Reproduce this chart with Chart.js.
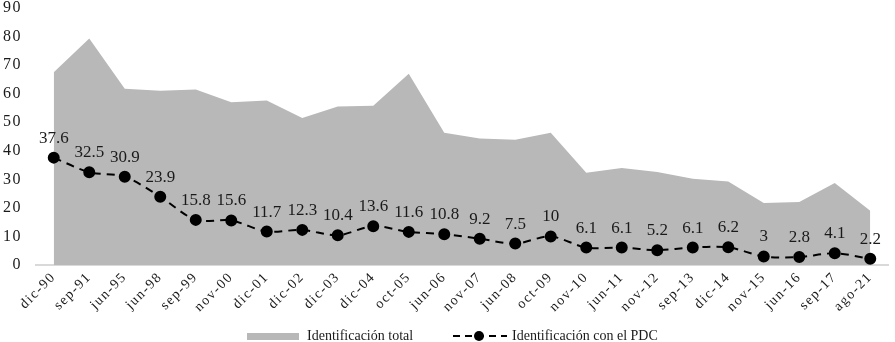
<!DOCTYPE html>
<html lang="es">
<head>
<meta charset="UTF-8">
<script src="https://cdn.jsdelivr.net/npm/chart.js"></script>
<style>
  html, body { margin: 0; padding: 0; background: #fff; }
  #wrap { width: 895px; height: 342px; position: relative; }
</style>
</head>
<body>
<div id="wrap"><canvas id="chart"></canvas></div>
<script>
const categories = ['dic-90','sep-91','jun-95','jun-98','sep-99','nov-00','dic-01','dic-02','dic-03','dic-04','oct-05','jun-06','nov-07','jun-08','oct-09','nov-10','jun-11','nov-12','sep-13','dic-14','nov-15','jun-16','sep-17','ago-21'];
const totalValues = [67.5, 79.3, 61.7, 61, 61.5, 57, 57.6, 51.5, 55.5, 55.8, 67, 46.3, 44.3, 43.9, 46.3, 32.3, 34, 32.6, 30.2, 29.2, 21.7, 22.1, 28.7, 19];
const pdcValues = [37.6, 32.5, 30.9, 23.9, 15.8, 15.6, 11.7, 12.3, 10.4, 13.6, 11.6, 10.8, 9.2, 7.5, 10, 6.1, 6.1, 5.2, 6.1, 6.2, 3, 2.8, 4.1, 2.2];
const yTicks = [0, 10, 20, 30, 40, 50, 60, 70, 80, 90];
const seriesNames = ['Identificación total', 'Identificación con el PDC'];

const serif = '"Liberation Serif", "DejaVu Serif", serif';

// axis labels in the original are widely spaced
const spacing = {
  id: 'spacing',
  beforeDraw(chart) { chart.ctx.letterSpacing = '1.5px'; },
  beforeDatasetsDraw(chart) { chart.ctx.letterSpacing = '0px'; }
};

// value labels above the dashed line points
const pointLabels = {
  id: 'pointLabels',
  afterDatasetsDraw(chart) {
    const ctx = chart.ctx;
    const meta = chart.getDatasetMeta(1);
    ctx.save();
    ctx.font = '17px ' + serif;
    ctx.fillStyle = '#1a1a1a';
    ctx.textAlign = 'center';
    ctx.textBaseline = 'bottom';
    meta.data.forEach((pt, i) => {
      ctx.fillText(String(pdcValues[i]), pt.x, pt.y - 11);
    });
    ctx.restore();
  }
};

// legend drawn by hand, the line entry needs a dot on a dashed line
const bottomLegend = {
  id: 'bottomLegend',
  afterDraw(chart) {
    const ctx = chart.ctx;
    const y = 336;
    ctx.save();
    ctx.font = '14px ' + serif;
    ctx.textBaseline = 'middle';
    ctx.textAlign = 'left';

    ctx.fillStyle = '#b8b8b8';
    ctx.fillRect(247, y - 3, 52, 7);
    ctx.fillStyle = '#1a1a1a';
    ctx.fillText(seriesNames[0], 307, y);

    ctx.strokeStyle = '#000';
    ctx.lineWidth = 2;
    ctx.setLineDash([7, 5]);
    ctx.beginPath();
    ctx.moveTo(453, y);
    ctx.lineTo(507, y);
    ctx.stroke();
    ctx.setLineDash([]);
    ctx.beginPath();
    ctx.arc(479, y, 5, 0, Math.PI * 2);
    ctx.fillStyle = '#000';
    ctx.fill();
    ctx.fillStyle = '#1a1a1a';
    ctx.fillText(seriesNames[1], 512, y);
    ctx.restore();
  }
};

new Chart(document.getElementById('chart'), {
  type: 'line',
  data: {
    labels: categories,
    datasets: [
      {
        label: seriesNames[0],
        data: totalValues,
        fill: 'origin',
        backgroundColor: '#b8b8b8',
        borderWidth: 0,
        pointRadius: 0,
        tension: 0,
        order: 2
      },
      {
        label: seriesNames[1],
        data: pdcValues,
        fill: false,
        borderColor: '#000',
        borderWidth: 2,
        borderDash: [8, 6],
        pointRadius: 5,
        pointBackgroundColor: '#000',
        pointBorderColor: '#000',
        tension: 0.3,
        order: 1
      }
    ]
  },
  options: {
    responsive: true,
    maintainAspectRatio: false,
    animation: false,
    layout: { padding: { top: 8, right: 1, left: 0, bottom: 0 } },
    plugins: {
      legend: { display: false },
      tooltip: { enabled: false }
    },
    scales: {
      x: {
        offset: true,
        grid: { display: false, drawTicks: false },
        border: { display: true, color: '#d9d9d9', width: 2 },
        ticks: {
          minRotation: 45,
          maxRotation: 45,
          autoSkip: false,
          padding: 4,
          color: '#1a1a1a',
          font: { family: serif, size: 14 }
        },
        afterFit(scale) { scale.height = 77; }
      },
      y: {
        min: 0,
        max: 90,
        afterBuildTicks(scale) { scale.ticks = yTicks.map(v => ({ value: v })); },
        grid: { display: false, drawTicks: false },
        border: { display: false },
        ticks: {
          padding: 14,
          color: '#1a1a1a',
          font: { family: serif, size: 16 }
        },
        afterFit(scale) {
          scale.width = 36;
          scale.paddingTop = 0;
          scale.paddingBottom = 0;
        }
      }
    }
  },
  plugins: [spacing, pointLabels, bottomLegend]
});
</script>
</body>
</html>
